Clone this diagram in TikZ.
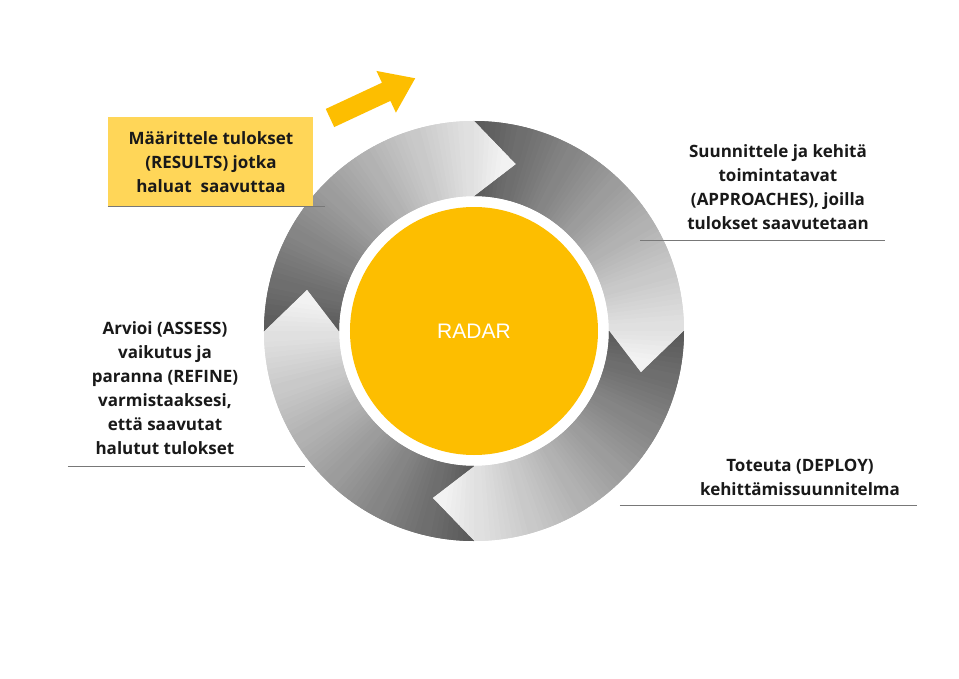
\documentclass[tikz,border=0pt]{standalone}
\usepackage{fontspec}
\setmainfont{Open Sans}
\newfontfamily\radarfont{Liberation Sans}
\definecolor{radaryellow}{RGB}{253,190,0}
\definecolor{boxyellow}{RGB}{255,214,88}
\definecolor{rulegray}{RGB}{120,120,120}
\tikzset{
  lbl/.style={align=center,font=\fontsize{17}{24}\selectfont\bfseries,text=black!90},
  rule/.style={draw=rulegray,line width=0.8pt}
}
\newcommand{\segment}[1]{%
  \begin{scope}
    \clip (#1:210) arc[start angle=#1,end angle=#1-90,radius=210]
      -- (#1-104:172) -- (#1-90:135)
      arc[start angle=#1-90,end angle=#1,radius=135]
      -- (#1-14:172) -- cycle;
    \foreach \i in {0,...,72}{
      \pgfmathtruncatemacro{\shade}{max(5,66-0.9*\i)}
      \fill[black!\shade] (0,0) -- (#1+1.5-1.5*\i:240) -- (#1-1.5-1.5*\i:240) -- cycle;
    }
  \end{scope}}

\begin{document}
\begin{tikzpicture}[x=1pt,y=1pt]
\useasboundingbox[fill=white] (-474,331) rectangle (485,-347);

% ring of four arrows
\foreach \a in {90,0,-90,180}{\segment{\a}}
\node[circle,fill=radaryellow,minimum size=248pt,inner sep=0pt] (radar) at (0,0)
  {\radarfont\fontsize{21}{24}\selectfont\color{white}RADAR};

% yellow arrow
\fill[radaryellow,shift={(-144,213)},rotate=25]
  (0,-10) -- (62,-10) -- (62,-23) -- (94,0) -- (62,23) -- (62,10) -- (0,10) -- cycle;

% labels
\node[lbl,fill=boxyellow,minimum width=205pt,minimum height=89pt] (results) at (-263,169)
  {Määrittele tulokset\\(RESULTS) jotka\\haluat\ \ saavuttaa};
\node[lbl] (approach) at (304,144)
  {Suunnittele ja kehitä\\toimintatavat\\(APPROACHES), joilla\\tulokset saavutetaan};
\node[lbl] (assess) at (-309,-57)
  {Arvioi (ASSESS)\\vaikutus ja\\paranna (REFINE)\\varmistaaksesi,\\että saavutat\\halutut tulokset};
\node[lbl] (deploy) at (326,-146)
  {Toteuta (DEPLOY)\\kehittämissuunnitelma};

\coordinate (r1) at (-366,125); \coordinate (r2) at (-149,125);
\coordinate (a1) at (166,91);   \coordinate (a2) at (411,91);
\coordinate (s1) at (-406,-135);\coordinate (s2) at (-169,-135);
\coordinate (d1) at (146,-174); \coordinate (d2) at (443,-174);
\draw[rule] (r1) -- (r2);
\draw[rule] (a1) -- (a2);
\draw[rule] (s1) -- (s2);
\draw[rule] (d1) -- (d2);
\end{tikzpicture}
\end{document}
